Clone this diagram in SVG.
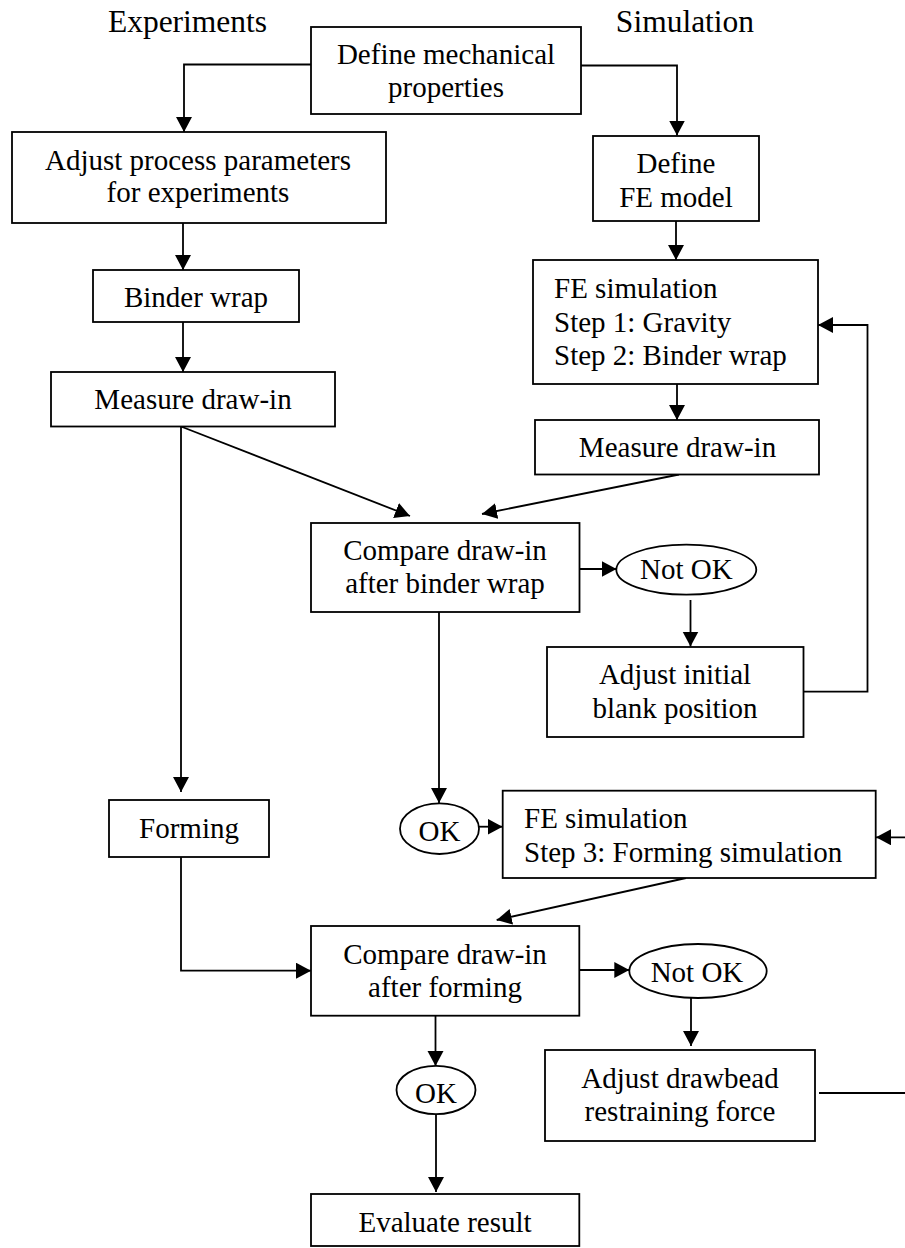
<svg xmlns="http://www.w3.org/2000/svg" width="905" height="1248" viewBox="0 0 905 1248">
<style>
.b{fill:#fff;stroke:#000;stroke-width:1.8}
.t{font-family:"Liberation Serif","Times New Roman",serif;font-size:29px;fill:#000;text-anchor:middle}
.l{text-anchor:start}
.h{font-family:"Liberation Serif","Times New Roman",serif;font-size:31.5px;fill:#000;text-anchor:middle}
.c{fill:none;stroke:#000;stroke-width:1.8;marker-end:url(#a)}
.n{fill:none;stroke:#000;stroke-width:1.8}
</style>
<defs>
<marker id="a" markerUnits="userSpaceOnUse" markerWidth="16" markerHeight="18" refX="15" refY="8" orient="auto">
<path d="M0,0 L15,8 L0,16 z" fill="#000"/>
</marker>
</defs>
<rect width="905" height="1248" fill="#fff"/>
<g id="headers">
<text class="h" x="187.5" y="32">Experiments</text>
<text class="h" x="685" y="32">Simulation</text>
</g>
<g id="connectors">
<path class="c" d="M311,64.5 H184 V132"/>
<path class="c" d="M581,65.5 H677 V135.5"/>
<path class="c" d="M183,223 V270"/>
<path class="c" d="M183,322 V372"/>
<path class="c" d="M181,426.5 L410,516"/>
<path class="c" d="M181,426.5 V792"/>
<path class="c" d="M676,221 V260"/>
<path class="c" d="M677,384 V420"/>
<path class="c" d="M679,474.5 L482,514"/>
<path class="c" d="M579.5,569 H616.5"/>
<path class="c" d="M690.5,600 V646.5"/>
<path class="c" d="M803.5,691.7 H867.5 V325 H818"/>
<path class="c" d="M439,612 V803"/>
<path class="c" d="M479,826.7 H502.5"/>
<path class="c" d="M686,878 L496.7,920"/>
<path class="c" d="M181,857 V970.7 H311"/>
<path class="c" d="M579.3,970 H629.3"/>
<path class="c" d="M691,998 V1046"/>
<path class="c" d="M819,1093 H907 V837.3 H876"/>
<path class="c" d="M435.5,1015.7 V1066"/>
<path class="c" d="M436,1114 V1192"/>
</g>
<g id="defmech">
<rect class="b" x="311" y="27" width="270" height="87"/>
<text class="t" x="446" y="64">Define mechanical</text>
<text class="t" x="446" y="97">properties</text>
</g>
<g id="adjproc">
<rect class="b" x="12" y="132" width="374" height="91"/>
<text class="t" x="198" y="169.5">Adjust process parameters</text>
<text class="t" x="198" y="202">for experiments</text>
</g>
<g id="femodel">
<rect class="b" x="593" y="136" width="166" height="85"/>
<text class="t" x="676" y="172.7">Define</text>
<text class="t" x="676" y="206.7">FE model</text>
</g>
<g id="binder">
<rect class="b" x="93" y="270" width="206" height="52"/>
<text class="t" x="196" y="306.7">Binder wrap</text>
</g>
<g id="fesim12">
<rect class="b" x="533" y="260" width="285" height="124"/>
<text class="t l" x="554" y="298.3">FE simulation</text>
<text class="t l" x="554" y="331.7">Step 1: Gravity</text>
<text class="t l" x="554" y="365">Step 2: Binder wrap</text>
</g>
<g id="measure1">
<rect class="b" x="51" y="372" width="284" height="54.5"/>
<text class="t" x="193" y="409.3">Measure draw-in</text>
</g>
<g id="measure2">
<rect class="b" x="535" y="420" width="284" height="54.5"/>
<text class="t" x="677.5" y="456.7">Measure draw-in</text>
</g>
<g id="compare1">
<rect class="b" x="311" y="523" width="268.5" height="89"/>
<text class="t" x="445" y="560">Compare draw-in</text>
<text class="t" x="445" y="592.7">after binder wrap</text>
</g>
<g id="notok1">
<ellipse class="b" cx="686.3" cy="569.7" rx="70" ry="25"/>
<text class="t" x="686.3" y="578.7">Not OK</text>
</g>
<g id="adjinit">
<rect class="b" x="547" y="647" width="256.5" height="90"/>
<text class="t" x="675" y="684.3">Adjust initial</text>
<text class="t" x="675" y="718.3">blank position</text>
</g>
<g id="forming">
<rect class="b" x="109" y="800" width="160" height="57"/>
<text class="t" x="189" y="838.3">Forming</text>
</g>
<g id="ok1">
<ellipse class="b" cx="439.5" cy="828.7" rx="39.5" ry="25.3"/>
<text class="t" x="439.5" y="841">OK</text>
</g>
<g id="fesim3">
<rect class="b" x="502.7" y="790.7" width="373" height="87.3"/>
<text class="t l" x="524" y="828.3">FE simulation</text>
<text class="t l" x="524" y="861.7">Step 3: Forming simulation</text>
</g>
<g id="compare2">
<rect class="b" x="311" y="926" width="268.3" height="89.7"/>
<text class="t" x="445" y="964">Compare draw-in</text>
<text class="t" x="445" y="997">after forming</text>
</g>
<g id="notok2">
<ellipse class="b" cx="698" cy="971" rx="68.7" ry="27"/>
<text class="t" x="697" y="982.3">Not OK</text>
</g>
<g id="adjdraw">
<rect class="b" x="545" y="1050" width="270" height="91"/>
<text class="t" x="680" y="1087.7">Adjust drawbead</text>
<text class="t" x="680" y="1120.7">restraining force</text>
</g>
<g id="ok2">
<ellipse class="b" cx="436" cy="1090" rx="39.5" ry="24.2"/>
<text class="t" x="436" y="1103.3">OK</text>
</g>
<g id="evaluate">
<rect class="b" x="311" y="1194" width="268.3" height="52"/>
<text class="t" x="445" y="1231.7">Evaluate result</text>
</g>
</svg>
